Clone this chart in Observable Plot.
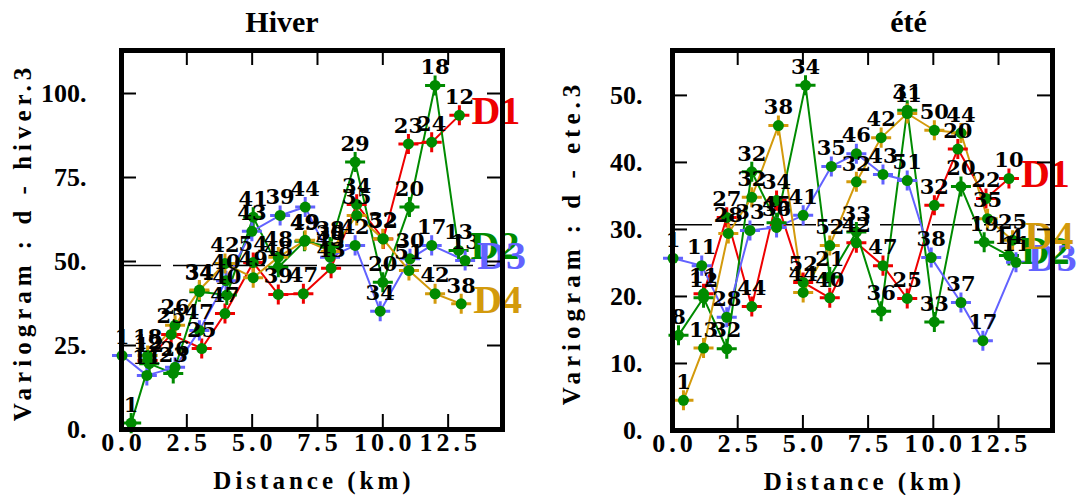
<!DOCTYPE html>
<html>
<head>
<meta charset="utf-8">
<script src="https://cdn.jsdelivr.net/npm/d3@7"></script>
<script src="https://cdn.jsdelivr.net/npm/@observablehq/plot@0.6"></script>
<style>
  body { margin: 0; background: #fff; }
  #wrap { display: flex; width: 1077px; height: 495px; overflow: hidden; }
  svg g[aria-description="ylabel"] text { letter-spacing: 5px; }
  svg g[aria-description="xlabel"] text { letter-spacing: 4px; }
  svg g[aria-description="xticklabel"] text { letter-spacing: 4px; }
</style>
</head>
<body>
<div id="wrap"></div>
<script>
// ---- shared ----
const directions = ["D1", "D2", "D3", "D4"];
const dirColors = ["#ee0000", "#008b00", "#6262ff", "#d39a0c"];
const xTicks = [0, 2.5, 5, 7.5, 10, 12.5];
const xTickLabels = ["0.0", "2.5", "5.0", "7.5", "10.0", "12.5"];
const xLabel = "Distance (km)";

// ---- Hiver ----
const hiverTitle = "Hiver";
const hiverYLabel = "Variogram : d - hiver.3";
const hiverSill = 48.8;
const hiverYTicks = [0, 25, 50, 75, 100];
const hiverYTickLabels = ["0.", "25.", "50.", "75.", "100."];

const hiverD1Dist  = [1.0, 1.9, 3.07, 3.96, 5.04, 6.0, 6.96, 8.02, 9.0, 10.02, 10.98, 11.87, 12.93];
const hiverD1Gamma = [20.5, 28.3, 24.1, 34.5, 49.7, 40.2, 40.4, 48.0, 67.0, 56.7, 85.0, 85.5, 93.5];
const hiverD1Np    = [12, 25, 25, 47, 54, 39, 47, 43, 34, 52, 23, 24, 12];

const hiverD2Dist  = [0.37, 1.06, 1.98, 2.98, 4.03, 5.04, 6.0, 7.0, 7.98, 8.94, 10.0, 11.02, 12.0, 12.9];
const hiverD2Gamma = [1.9, 19.6, 16.7, 41.0, 40.0, 63.2, 48.3, 56.0, 54.3, 79.6, 43.8, 66.2, 102.4, 53.3];
const hiverD2Np    = [1, 12, 23, 34, 40, 41, 48, 49, 38, 29, 20, 20, 18, 13];

const hiverD3Dist  = [0.02, 0.97, 2.05, 2.98, 4.0, 4.99, 6.07, 7.03, 7.98, 8.94, 9.9, 11.04, 11.87, 13.15];
const hiverD3Gamma = [22.0, 16.1, 18.5, 29.5, 44.3, 59.0, 63.7, 66.2, 51.3, 54.8, 35.2, 50.8, 54.8, 50.3];
const hiverD3Np    = [1, 11, 26, 47, 40, 43, 39, 44, 43, 42, 34, 30, 17, 13];

const hiverD4Dist  = [1.0, 2.05, 2.98, 3.96, 5.04, 6.0, 7.03, 8.0, 9.0, 10.0, 11.0, 12.0, 13.0];
const hiverD4Gamma = [22.0, 31.0, 41.5, 49.4, 45.2, 51.3, 56.3, 53.0, 63.7, 56.8, 47.3, 40.4, 37.4];
const hiverD4Np    = [18, 26, 34, 42, 49, 48, 49, 38, 35, 32, 51, 42, 38];

// ---- Été ----
const eteTitle = "été";
const eteYLabel = "Variogram : d - ete.3";
const eteSill = 30.7;
const eteYTicks = [0, 10, 20, 30, 40, 50];
const eteYTickLabels = ["0.", "10.", "20.", "30.", "40.", "50."];

const eteD1Dist  = [1.19, 2.08, 3.04, 3.99, 5.01, 6.03, 7.05, 8.07, 9.0, 10.04, 10.94, 12.02, 12.9];
const eteD1Gamma = [20.4, 31.8, 18.5, 34.3, 22.1, 19.8, 28.0, 24.6, 19.7, 33.6, 42.0, 34.6, 37.6];
const eteD1Np    = [11, 27, 44, 34, 52, 40, 42, 47, 25, 32, 20, 22, 10];

const eteD2Dist  = [0.23, 1.19, 2.08, 3.04, 3.99, 5.1, 6.03, 7.05, 8.0, 9.0, 10.04, 11.06, 11.95, 12.9];
const eteD2Gamma = [14.2, 19.8, 12.2, 38.6, 31.0, 51.5, 22.9, 29.6, 17.8, 47.8, 16.2, 36.4, 28.1, 26.1];
const eteD2Np    = [8, 12, 32, 32, 45, 34, 21, 33, 36, 31, 33, 20, 19, 14];

const eteD3Dist  = [0.02, 1.12, 2.08, 2.97, 3.99, 5.01, 6.09, 7.05, 8.07, 9.0, 9.92, 11.06, 11.9, 13.17];
const eteD3Gamma = [25.7, 24.6, 16.9, 29.85, 30.3, 32.1, 39.4, 41.3, 38.2, 37.3, 25.8, 19.1, 13.4, 25.1];
const eteD3Np    = [1, 11, 28, 33, 36, 41, 35, 46, 43, 51, 38, 37, 17, 11];

const eteD4Dist  = [0.42, 1.19, 2.14, 3.04, 4.06, 5.01, 6.03, 7.05, 8.0, 9.0, 10.04, 11.06, 12.08, 13.04];
const eteD4Gamma = [4.5, 12.3, 29.4, 34.8, 45.5, 20.6, 27.6, 37.1, 43.7, 47.3, 44.8, 44.4, 31.6, 28.4];
const eteD4Np    = [1, 13, 28, 32, 38, 44, 52, 32, 42, 41, 50, 44, 35, 25];

// ---- drawing ----
const axisFont = "Liberation Serif";
function panel(cfg) {
  const H = 495, mt = 50;
  const iw = cfg.width - cfg.ml - cfg.mr;
  const ih = H - mt - cfg.mb;
  const rows = cfg.series.flatMap((s, i) =>
    s.dist.map((d, j) => ({dir: directions[i], dist: d, gamma: s.gamma[j], np: String(s.np[j])})));
  const last = cfg.series.map((s, i) => ({dir: directions[i], dist: s.dist[s.dist.length - 1], gamma: s.gamma[s.gamma.length - 1]}));
  const T = 15;
  return Plot.plot({
    width: cfg.width, height: H,
    marginLeft: cfg.ml, marginRight: cfg.mr, marginTop: mt, marginBottom: cfg.mb,
    x: {domain: [0, cfg.xMax], axis: null},
    y: {domain: [0, cfg.yMax], axis: null},
    color: {domain: directions, range: dirColors},
    style: {fontFamily: "DejaVu Serif", background: "white", overflow: "visible"},
    marks: [
      Plot.ruleY([cfg.sill], {stroke: "black", strokeWidth: 1.5, strokeDasharray: "40,12"}),
      Plot.line(rows, {x: "dist", y: "gamma", z: "dir", stroke: "dir", strokeWidth: 2}),
      Plot.dot(rows, {x: "dist", y: "gamma", symbol: "plus", r: 6.5, stroke: "dir", strokeWidth: 3}),
      Plot.dot(rows, {x: "dist", y: "gamma", r: 5.5, fill: "#008b00"}),
      Plot.text(rows, {x: "dist", y: "gamma", text: "np", dy: -18, fontSize: 21, fontWeight: "bold", fill: "black"}),
      Plot.text(last, {x: "dist", y: "gamma", text: "dir", fill: "dir", textAnchor: "start", dx: 12, dy: -4,
        fontSize: 40, fontWeight: "bold", fontFamily: "Liberation Serif"}),
      // inward ticks on all four sides
      Plot.tickX(xTicks, {x: d => d, insetTop: ih - T, strokeWidth: 2}),
      Plot.tickX(xTicks, {x: d => d, insetBottom: ih - T, strokeWidth: 2}),
      Plot.tickY(cfg.yTicks, {y: d => d, insetRight: iw - T, strokeWidth: 2}),
      Plot.tickY(cfg.yTicks, {y: d => d, insetLeft: iw - T, strokeWidth: 2}),
      Plot.frame({stroke: "black", strokeWidth: 5}),
      // tick labels
      Plot.text(xTicks, {x: d => d, text: (d, i) => xTickLabels[i], frameAnchor: "bottom", dy: 13, dx: 2,
        lineAnchor: "middle", fontSize: 26, fontWeight: "bold", fontFamily: axisFont, ariaDescription: "xticklabel"}),
      Plot.text(cfg.yTicks, {y: d => d, text: (d, i) => cfg.yTickLabels[i], frameAnchor: "left", dx: cfg.yTickDx,
        textAnchor: "end", lineAnchor: "middle", fontSize: 26, fontWeight: "bold", fontFamily: axisFont}),
      // axis titles
      Plot.text([xLabel], {text: d => d, frameAnchor: "bottom", dy: 51, dx: 2, lineAnchor: "middle", textAnchor: "middle",
        fontSize: 25, fontWeight: "bold", fontFamily: axisFont, ariaDescription: "xlabel"}),
      Plot.text([cfg.yLabel], {text: d => d, frameAnchor: "left", rotate: -90, dx: cfg.yLabDx, dy: 2, textAnchor: "middle",
        lineAnchor: "middle", fontSize: 25, fontWeight: "bold", fontFamily: axisFont, ariaDescription: "ylabel"}),
      // panel title
      Plot.text([cfg.title], {text: d => d, frameAnchor: "top", dy: -28, dx: cfg.titleDx, lineAnchor: "middle",
        textAnchor: "middle", fontSize: 30, fontWeight: "bold", fontFamily: "Liberation Serif"})
    ]
  });
}

const wrap = document.getElementById("wrap");
wrap.appendChild(panel({
  title: hiverTitle, yLabel: hiverYLabel, sill: hiverSill,
  yTicks: hiverYTicks, yTickLabels: hiverYTickLabels,
  width: 538, ml: 121, mr: 36, mb: 66, xMax: 14.58, yMax: 112.8,
  titleDx: -30, yLabDx: -99, yTickDx: -35,
  series: [
    {dist: hiverD1Dist, gamma: hiverD1Gamma, np: hiverD1Np},
    {dist: hiverD2Dist, gamma: hiverD2Gamma, np: hiverD2Np},
    {dist: hiverD3Dist, gamma: hiverD3Gamma, np: hiverD3Np},
    {dist: hiverD4Dist, gamma: hiverD4Gamma, np: hiverD4Np}
  ]
}));
wrap.appendChild(panel({
  title: eteTitle, yLabel: eteYLabel, sill: eteSill,
  yTicks: eteYTicks, yTickLabels: eteYTickLabels,
  width: 539, ml: 134, mr: 25, mb: 65, xMax: 14.57, yMax: 56.7,
  titleDx: 46, yLabDx: -101, yTickDx: -30,
  series: [
    {dist: eteD1Dist, gamma: eteD1Gamma, np: eteD1Np},
    {dist: eteD2Dist, gamma: eteD2Gamma, np: eteD2Np},
    {dist: eteD3Dist, gamma: eteD3Gamma, np: eteD3Np},
    {dist: eteD4Dist, gamma: eteD4Gamma, np: eteD4Np}
  ]
}));
</script>
</body>
</html>
